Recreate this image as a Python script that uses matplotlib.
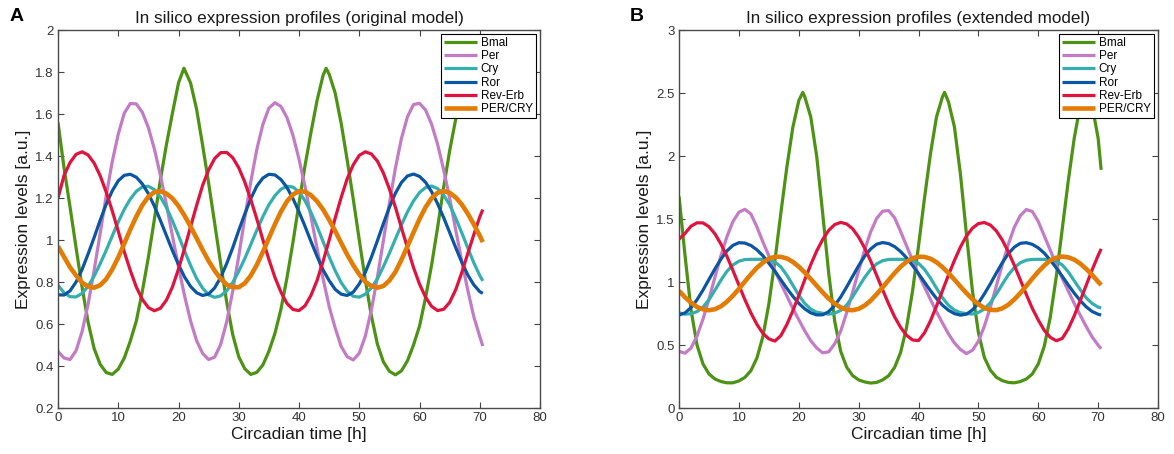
import matplotlib
matplotlib.use("Agg")
import matplotlib.pyplot as plt

plt.rcParams['font.family'] = ['Liberation Sans', 'DejaVu Sans']

# simulation time points [h]
hours = list(range(71)) + [70.5]

genes = ['Bmal', 'Per', 'Cry', 'Ror', 'Rev-Erb', 'PER/CRY']
colors = ['#4c9213', '#c37bc6', '#35aeae', '#0b56a2', '#e0123e', '#e27c05']
widths = [2.3, 2.3, 2.3, 2.3, 2.3, 3.3]

# --- original model ---
bmal_a = [1.56, 1.344, 1.157, 0.963, 0.775, 0.608, 0.483, 0.408, 0.369, 0.36,
          0.385, 0.438, 0.519, 0.614, 0.756, 0.918, 1.099, 1.287, 1.455, 1.605,
          1.748, 1.812, 1.748, 1.623, 1.452, 1.271, 1.08, 0.887, 0.704, 0.549,
          0.444, 0.387, 0.36, 0.37, 0.405, 0.47, 0.555, 0.67, 0.82, 0.99,
          1.175, 1.355, 1.515, 1.665, 1.785, 1.79, 1.70, 1.555, 1.38, 1.195,
          1.00, 0.81, 0.64, 0.505, 0.42, 0.375, 0.358, 0.377, 0.425, 0.50,
          0.59, 0.725, 0.88, 1.06, 1.25, 1.425, 1.575, 1.73, 1.81, 1.77,
          1.68, 1.63]
per_a = [0.47, 0.438, 0.431, 0.473, 0.564, 0.695, 0.856, 1.032, 1.211, 1.373,
         1.504, 1.604, 1.65, 1.648, 1.608, 1.535, 1.433, 1.308, 1.168, 1.018,
         0.872, 0.735, 0.615, 0.521, 0.46, 0.431, 0.442, 0.503, 0.611, 0.757,
         0.924, 1.105, 1.278, 1.432, 1.55, 1.628, 1.654, 1.636, 1.583, 1.498,
         1.385, 1.254, 1.109, 0.96, 0.815, 0.684, 0.581, 0.493, 0.444, 0.429,
         0.461, 0.542, 0.666, 0.821, 0.997, 1.175, 1.343, 1.484, 1.587, 1.645,
         1.651, 1.619, 1.552, 1.456, 1.335, 1.199, 1.049, 0.901, 0.762, 0.636,
         0.54, 0.495]
cry_a = [0.785, 0.749, 0.73, 0.729, 0.746, 0.78, 0.828, 0.887, 0.951, 1.019,
         1.086, 1.146, 1.195, 1.232, 1.253, 1.256, 1.24, 1.205, 1.155, 1.091,
         1.021, 0.948, 0.879, 0.817, 0.771, 0.739, 0.727, 0.734, 0.758, 0.798,
         0.851, 0.912, 0.979, 1.047, 1.111, 1.168, 1.211, 1.242, 1.256, 1.252,
         1.229, 1.187, 1.13, 1.064, 0.992, 0.92, 0.854, 0.797, 0.756, 0.732,
         0.728, 0.742, 0.772, 0.815, 0.873, 0.937, 1.005, 1.072, 1.134, 1.186,
         1.226, 1.25, 1.257, 1.245, 1.214, 1.168, 1.105, 1.035, 0.963, 0.892,
         0.831, 0.805]
ror_a = [0.739, 0.738, 0.758, 0.8, 0.86, 0.934, 1.012, 1.094, 1.17, 1.234,
         1.282, 1.308, 1.313, 1.299, 1.267, 1.221, 1.161, 1.093, 1.021, 0.949,
         0.883, 0.824, 0.779, 0.749, 0.736, 0.743, 0.772, 0.822, 0.888, 0.963,
         1.046, 1.124, 1.197, 1.257, 1.295, 1.313, 1.31, 1.288, 1.25, 1.197,
         1.134, 1.065, 0.992, 0.922, 0.857, 0.807, 0.765, 0.742, 0.736, 0.752,
         0.791, 0.846, 0.917, 0.996, 1.078, 1.156, 1.223, 1.274, 1.305, 1.314,
         1.303, 1.275, 1.23, 1.173, 1.107, 1.036, 0.964, 0.895, 0.834, 0.787,
         0.754, 0.746]
rev_a = [1.20, 1.307, 1.369, 1.408, 1.42, 1.405, 1.366, 1.306, 1.228, 1.139,
         1.042, 0.944, 0.855, 0.776, 0.717, 0.678, 0.663, 0.675, 0.714, 0.777,
         0.862, 0.959, 1.063, 1.164, 1.26, 1.334, 1.388, 1.416, 1.417, 1.392,
         1.344, 1.276, 1.192, 1.1, 1.001, 0.908, 0.822, 0.752, 0.698, 0.669,
         0.664, 0.687, 0.737, 0.808, 0.899, 0.999, 1.104, 1.203, 1.292, 1.358,
         1.403, 1.42, 1.41, 1.376, 1.319, 1.243, 1.156, 1.058, 0.963, 0.869,
         0.79, 0.728, 0.684, 0.664, 0.67, 0.703, 0.763, 0.844, 0.935, 1.025,
         1.11, 1.145]
percry_a = [0.97, 0.92, 0.87, 0.831, 0.797, 0.779, 0.773, 0.785, 0.814, 0.86,
            0.917, 0.983, 1.05, 1.112, 1.166, 1.206, 1.228, 1.232, 1.221, 1.198,
            1.162, 1.116, 1.064, 1.009, 0.953, 0.9, 0.854, 0.815, 0.788, 0.775,
            0.775, 0.794, 0.831, 0.882, 0.943, 1.009, 1.075, 1.135, 1.184, 1.217,
            1.232, 1.23, 1.213, 1.184, 1.145, 1.096, 1.043, 0.986, 0.93, 0.88,
            0.836, 0.801, 0.781, 0.773, 0.781, 0.807, 0.848, 0.906, 0.97, 1.036,
            1.1, 1.156, 1.199, 1.225, 1.233, 1.225, 1.203, 1.17, 1.126, 1.075,
            1.02, 0.99]
# Bmal peak tops between the hourly samples
bmal_a_peak_t = [20.9, 44.5]
bmal_a_peak_v = [1.818, 1.818]

# --- extended model ---
bmal_b = [1.68, 1.21, 0.78, 0.50, 0.35, 0.27, 0.23, 0.21, 0.20, 0.20,
          0.215, 0.243, 0.296, 0.396, 0.566, 0.826, 1.165, 1.545, 1.91, 2.226,
          2.44, 2.47, 2.31, 1.995, 1.54, 1.068, 0.688, 0.45, 0.324, 0.257,
          0.223, 0.207, 0.198, 0.203, 0.223, 0.256, 0.322, 0.44, 0.64, 0.928,
          1.287, 1.667, 2.02, 2.31, 2.47, 2.43, 2.23, 1.855, 1.38, 0.93,
          0.598, 0.40, 0.30, 0.244, 0.217, 0.203, 0.20, 0.21, 0.23, 0.27,
          0.35, 0.49, 0.72, 1.04, 1.42, 1.80, 2.14, 2.40, 2.505, 2.40,
          2.14, 1.89]
per_b = [0.45, 0.435, 0.476, 0.571, 0.706, 0.865, 1.039, 1.209, 1.36, 1.48,
         1.554, 1.577, 1.54, 1.438, 1.319, 1.208, 1.09, 0.99, 0.89, 0.791,
         0.701, 0.612, 0.534, 0.476, 0.438, 0.446, 0.51, 0.61, 0.757, 0.92,
         1.09, 1.256, 1.397, 1.504, 1.562, 1.567, 1.51, 1.402, 1.286, 1.172,
         1.06, 0.96, 0.86, 0.764, 0.674, 0.588, 0.516, 0.464, 0.432, 0.458,
         0.53, 0.65, 0.80, 0.97, 1.14, 1.30, 1.435, 1.527, 1.575, 1.56,
         1.48, 1.366, 1.253, 1.136, 1.03, 0.93, 0.83, 0.737, 0.647, 0.564,
         0.498, 0.47]
cry_b = [0.755, 0.745, 0.748, 0.765, 0.80, 0.86, 0.935, 1.015, 1.085, 1.135,
         1.165, 1.178, 1.18, 1.18, 1.18, 1.175, 1.16, 1.12, 1.055, 0.975,
         0.895, 0.83, 0.785, 0.76, 0.752, 0.745, 0.752, 0.775, 0.818, 0.883,
         0.96, 1.036, 1.10, 1.144, 1.169, 1.179, 1.18, 1.18, 1.179, 1.171,
         1.148, 1.10, 1.031, 0.951, 0.875, 0.816, 0.777, 0.757, 0.749, 0.746,
         0.758, 0.786, 0.836, 0.905, 0.983, 1.057, 1.115, 1.153, 1.173, 1.179,
         1.18, 1.18, 1.177, 1.166, 1.136, 1.081, 1.01, 0.94, 0.875, 0.83,
         0.80, 0.795]
ror_b = [0.738, 0.755, 0.797, 0.859, 0.936, 1.021, 1.105, 1.182, 1.247, 1.291,
         1.312, 1.309, 1.29, 1.256, 1.209, 1.149, 1.086, 1.018, 0.95, 0.887,
         0.831, 0.787, 0.755, 0.739, 0.74, 0.765, 0.814, 0.881, 0.961, 1.046,
         1.13, 1.205, 1.262, 1.30, 1.313, 1.305, 1.281, 1.242, 1.192, 1.131,
         1.066, 0.998, 0.931, 0.869, 0.816, 0.776, 0.749, 0.737, 0.745, 0.778,
         0.833, 0.906, 0.986, 1.072, 1.154, 1.225, 1.277, 1.307, 1.312, 1.299,
         1.271, 1.229, 1.174, 1.112, 1.046, 0.977, 0.912, 0.853, 0.803, 0.766,
         0.744, 0.738]
rev_b = [1.34, 1.386, 1.443, 1.47, 1.469, 1.439, 1.382, 1.301, 1.203, 1.092,
         0.975, 0.86, 0.755, 0.664, 0.593, 0.549, 0.531, 0.574, 0.662, 0.771,
         0.893, 1.018, 1.138, 1.247, 1.338, 1.41, 1.456, 1.473, 1.461, 1.422,
         1.356, 1.27, 1.168, 1.054, 0.938, 0.827, 0.724, 0.64, 0.577, 0.54,
         0.535, 0.597, 0.693, 0.809, 0.932, 1.055, 1.172, 1.278, 1.365, 1.427,
         1.464, 1.472, 1.452, 1.405, 1.332, 1.239, 1.132, 1.017, 0.901, 0.791,
         0.698, 0.616, 0.561, 0.534, 0.552, 0.627, 0.731, 0.851, 0.974, 1.097,
         1.211, 1.263]
percry_b = [0.93, 0.879, 0.837, 0.802, 0.783, 0.776, 0.784, 0.807, 0.844, 0.891,
            0.946, 1.004, 1.061, 1.113, 1.154, 1.185, 1.20, 1.20, 1.187, 1.16,
            1.122, 1.075, 1.024, 0.97, 0.917, 0.868, 0.829, 0.798, 0.78, 0.776,
            0.787, 0.813, 0.852, 0.903, 0.957, 1.015, 1.071, 1.121, 1.161, 1.189,
            1.201, 1.199, 1.185, 1.157, 1.118, 1.071, 1.019, 0.964, 0.912, 0.864,
            0.825, 0.793, 0.779, 0.777, 0.791, 0.82, 0.862, 0.912, 0.969, 1.027,
            1.082, 1.131, 1.172, 1.192, 1.202, 1.196, 1.178, 1.146, 1.104, 1.056,
            1.002, 0.976]
bmal_b_peak_t = [20.67, 44.35]
bmal_b_peak_v = [2.505, 2.505]

xticks = [0, 10, 20, 30, 40, 50, 60, 70, 80]
yticks_a = [0.2, 0.4, 0.6, 0.8, 1.0, 1.2, 1.4, 1.6, 1.8, 2.0]
ylabels_a = ['0.2', '0.4', '0.6', '0.8', '1', '1.2', '1.4', '1.6', '1.8', '2']
yticks_b = [0, 0.5, 1.0, 1.5, 2.0, 2.5, 3.0]
ylabels_b = ['0', '0.5', '1', '1.5', '2', '2.5', '3']


def with_peaks(vals, peak_t, peak_v):
    # merge the extra peak samples into the hourly series
    pts = sorted(zip(hours + peak_t, vals + peak_v))
    return [p[0] for p in pts], [p[1] for p in pts]


panels = [
    ('A', 'In silico expression profiles (original model)',
     [bmal_a, per_a, cry_a, ror_a, rev_a, percry_a], (bmal_a_peak_t, bmal_a_peak_v),
     (0.2, 2.0), yticks_a, ylabels_a),
    ('B', 'In silico expression profiles (extended model)',
     [bmal_b, per_b, cry_b, ror_b, rev_b, percry_b], (bmal_b_peak_t, bmal_b_peak_v),
     (0.0, 3.0), yticks_b, ylabels_b),
]

fig = plt.figure(figsize=(11.74, 4.54), dpi=100)
ax_a = fig.add_axes([0.0494, 0.1013, 0.4106, 0.8326])
ax_b = fig.add_axes([0.5784, 0.1013, 0.408, 0.8326])
letter_x = [0.0085, 0.5366]

for ax, lx, (letter, title, series, peaks, ylim, yt, yl) in zip([ax_a, ax_b], letter_x, panels):
    for i, (vals, name, c, w) in enumerate(zip(series, genes, colors, widths)):
        if i == 0:
            t, v = with_peaks(vals, peaks[0], peaks[1])
        else:
            t, v = hours, vals
        ax.plot(t, v, color=c, lw=w, label=name, solid_capstyle='butt',
                solid_joinstyle='round')
    ax.set_xlim(0, 80)
    ax.set_ylim(*ylim)
    ax.set_xticks(xticks)
    ax.set_yticks(yt)
    ax.set_yticklabels(yl)
    ax.tick_params(direction='in', top=True, right=True, length=4, width=0.8,
                   labelsize=9.5, colors='#444444', labelcolor='#333333', pad=3)
    for s in ax.spines.values():
        s.set_color('#4a4a4a')
        s.set_linewidth(1.0)
    ax.set_title(title, fontsize=12.3, pad=5, color='#1a1a1a')
    ax.set_xlabel('Circadian time [h]', fontsize=12.5, labelpad=2, color='#1a1a1a')
    ax.set_ylabel('Expression levels [a.u.]', fontsize=12.5, labelpad=3, color='#1a1a1a')
    leg = ax.legend(loc='upper right', fontsize=8.5, frameon=True, fancybox=False,
                    framealpha=1, edgecolor='black', borderpad=0.25,
                    labelspacing=0.1, handlelength=2.8, handletextpad=0.3,
                    borderaxespad=0.35)
    leg.get_frame().set_linewidth(0.8)
    fig.text(lx, 0.963, letter, fontsize=14, fontweight='bold', va='center', ha='left')

fig.savefig('out.png', dpi=100)
